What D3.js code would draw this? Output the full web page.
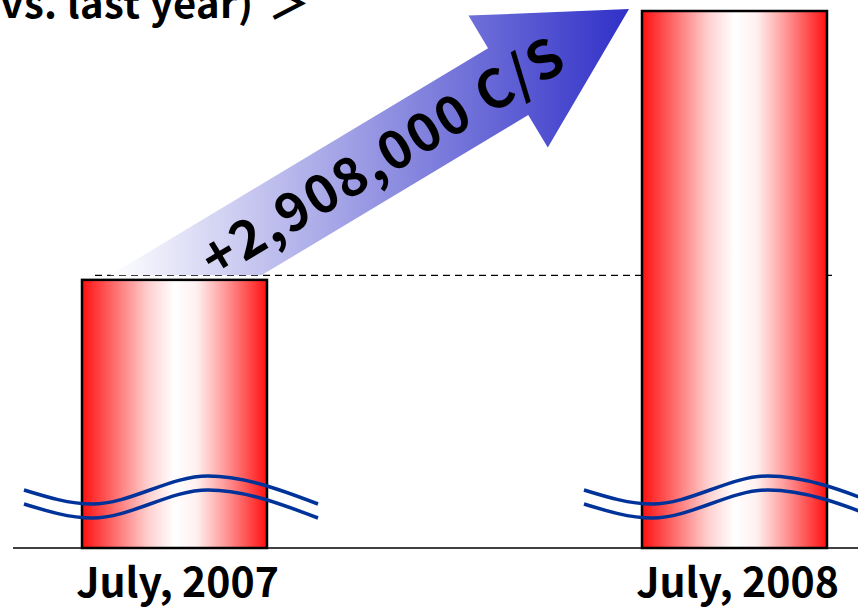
<!DOCTYPE html>
<html>
<head>
<meta charset="utf-8">
<script src="https://cdn.jsdelivr.net/npm/d3@7"></script>
<style>
  body { margin: 0; background: #fff; }
  svg { display: block; }
</style>
</head>
<body>
<div id="container"></div>
<script>
/**
 * CONSTANTS AND GLOBALS
 * */
const width = 858,
  height = 607,
  margin = { top: 11, bottom: 59, left: 13, right: 0 },
  barWidth = 185;

// DATA
const periods = ["July, 2007", "July, 2008"];
const subscribers = [2900000, 5808000];
const increaseLabel = "+2,908,000 C/S";
const titleText = "(vs. last year)";
const titleMark = "＞";

const fontFamily = "'Noto Sans CJK JP', 'Noto Sans', sans-serif";

// SCALES
const xScale = d3.scalePoint()
  .domain(periods)
  .range([174.5, 734.5]);

const yScale = d3.scaleLinear()
  .domain([0, d3.max(subscribers)])
  .range([height - margin.bottom, margin.top]);

const data = periods.map((p, i) => ({ period: p, value: subscribers[i] }));

// SVG
const svg = d3.select("#container").append("svg")
  .attr("width", width)
  .attr("height", height);

const defs = svg.append("defs");

// red - white - red fill for the bars
const barGrad = defs.append("linearGradient")
  .attr("id", "barGrad")
  .attr("x1", "0%").attr("x2", "100%")
  .attr("y1", "0%").attr("y2", "0%");
barGrad.selectAll("stop")
  .data([
    { o: "0%", c: "#ff1010" },
    { o: "20%", c: "#ff7a7a" },
    { o: "36%", c: "#ffd0d0" },
    { o: "50%", c: "#ffffff" },
    { o: "62%", c: "#fff0f0" },
    { o: "80%", c: "#ff8a8a" },
    { o: "100%", c: "#ff1010" }
  ])
  .join("stop")
  .attr("offset", d => d.o)
  .attr("stop-color", d => d.c);

// baseline
const baseY = yScale(0);
svg.append("line")
  .attr("x1", margin.left).attr("x2", width)
  .attr("y1", baseY).attr("y2", baseY)
  .attr("stroke", "#000")
  .attr("stroke-width", 1.5);

// dashed reference line at last year's level
const refY = yScale(subscribers[0]) - 4.5;
svg.append("line")
  .attr("x1", xScale(periods[0]) - barWidth / 2 + 13)
  .attr("x2", xScale(periods[1]) + barWidth / 2 + 5)
  .attr("y1", refY).attr("y2", refY)
  .attr("stroke", "#000")
  .attr("stroke-width", 1.3)
  .attr("stroke-dasharray", "7,5");

// BARS
svg.selectAll("rect.bar")
  .data(data)
  .join("rect")
  .attr("class", "bar")
  .attr("x", d => xScale(d.period) - barWidth / 2)
  .attr("y", d => yScale(d.value))
  .attr("width", barWidth)
  .attr("height", d => baseY - yScale(d.value))
  .attr("fill", "url(#barGrad)")
  .attr("stroke", "#000")
  .attr("stroke-width", 2.5);

// axis-break waves over each bar
const wave = d3.line().curve(d3.curveMonotoneX);
data.forEach(d => {
  const left = xScale(d.period) - barWidth / 2;
  const cy = 490;
  [0, 14].forEach(off => {
    const pts = [
      [left - 58, cy + off],
      [left + 10, cy + 14 + off],
      [left + 126, cy - 14 + off],
      [left + 236, cy + 14 + off]
    ];
    svg.append("path")
      .attr("d", wave(pts))
      .attr("fill", "none")
      .attr("stroke", "#003399")
      .attr("stroke-width", 3.5);
  });
});

// CATEGORY LABELS
svg.selectAll("text.cat")
  .data(data)
  .join("text")
  .attr("class", "cat")
  .attr("x", d => xScale(d.period) + 3)
  .attr("y", baseY + 49)
  .attr("text-anchor", "middle")
  .attr("font-family", fontFamily)
  .attr("font-weight", "bold")
  .attr("font-size", 41)
  .attr("fill", "#000")
  .text(d => d.period);

// INCREASE ARROW
const ang = 31 * Math.PI / 180;
const u = [Math.cos(ang), -Math.sin(ang)];     // along arrow
const n = [-Math.sin(ang), -Math.cos(ang)];    // across, to upper-left
const shaftW = 78, headOver = 38, headLen = 141;
const tip = [xScale(periods[1]) - barWidth / 2 - 13, yScale(subscribers[1]) - 2];
const add = (p, v, k) => [p[0] + v[0] * k, p[1] + v[1] * k];

const B = add(add(tip, u, -headLen), n, -shaftW / 2);   // head junction, lower edge
const T = add(B, n, shaftW);                             // head junction, upper edge
const sB = (refY - B[1]) / u[1];
const sT = (refY - T[1]) / u[1];
const arrowPts = [
  add(T, u, sT),
  T,
  add(B, n, shaftW + headOver),
  tip,
  add(B, n, -headOver),
  B,
  add(B, u, sB)
];

const arrowGrad = defs.append("linearGradient")
  .attr("id", "arrowGrad")
  .attr("gradientUnits", "userSpaceOnUse")
  .attr("x1", arrowPts[0][0]).attr("x2", tip[0])
  .attr("y1", 0).attr("y2", 0);
arrowGrad.append("stop").attr("offset", "0%").attr("stop-color", "#ffffff");
arrowGrad.append("stop").attr("offset", "100%").attr("stop-color", "#3030c8");

svg.append("path")
  .attr("d", d3.line()(arrowPts) + "Z")
  .attr("fill", "url(#arrowGrad)");

const mid = add(add(B, n, shaftW / 2), u, -147);
svg.append("text")
  .attr("transform", `translate(${mid[0]},${mid[1]}) rotate(-31)`)
  .attr("text-anchor", "middle")
  .attr("dy", "0.36em")
  .attr("font-family", fontFamily)
  .attr("font-weight", "bold")
  .attr("font-size", 53)
  .attr("textLength", 412)
  .attr("lengthAdjust", "spacing")
  .attr("fill", "#000")
  .text(increaseLabel);

// TITLE (cut off at the top edge)
svg.append("text")
  .attr("x", 253)
  .attr("y", 18)
  .attr("text-anchor", "end")
  .attr("font-family", fontFamily)
  .attr("font-weight", "bold")
  .attr("font-size", 40)
  .attr("textLength", 268)
  .attr("lengthAdjust", "spacing")
  .attr("fill", "#000")
  .text(titleText);

svg.append("text")
  .attr("x", 268)
  .attr("y", 19)
  .attr("font-family", fontFamily)
  .attr("font-weight", "bold")
  .attr("font-size", 42)
  .attr("fill", "#000")
  .text(titleMark);
</script>
</body>
</html>
